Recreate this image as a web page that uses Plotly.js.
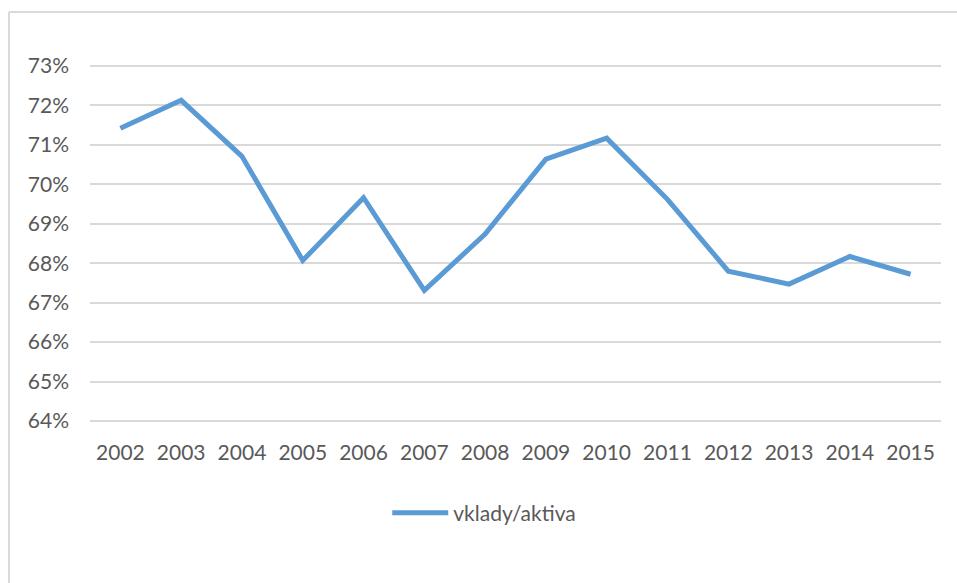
<!DOCTYPE html>
<html>
<head>
<meta charset="utf-8">
<script src="https://cdn.plot.ly/plotly-3.0.1.min.js"></script>
<style>
  html, body { margin: 0; padding: 0; background: #ffffff; }
  #chart { width: 957px; height: 583px; }
</style>
</head>
<body>
<div id="chart"></div>
<script>
// Deposits-to-assets ratio by year
const years = ['2002', '2003', '2004', '2005', '2006', '2007', '2008',
               '2009', '2010', '2011', '2012', '2013', '2014', '2015'];
const vkladyAktiva = [0.7142, 0.7213, 0.7071, 0.6807, 0.6966, 0.6731, 0.6874,
                      0.7064, 0.7117, 0.6962, 0.6780, 0.6747, 0.6817, 0.6772];
const seriesName = 'vklady/aktiva';
const yTicks = [0.64, 0.65, 0.66, 0.67, 0.68, 0.69, 0.70, 0.71, 0.72, 0.73];

const textColor = '#595959';
const gridColor = '#d9d9d9';
const fontFamily = 'Lato, "Open Sans", sans-serif';

const trace = {
  type: 'scatter',
  mode: 'lines',
  x: years,
  y: vkladyAktiva,
  name: seriesName,
  line: { color: '#5b9bd5', width: 5 },
  hoverinfo: 'x+y'
};

// small pad so the 64% and 73% grid lines sit just inside the plot area
const yPad = 0.0005;

const layout = {
  width: 957,
  height: 583,
  paper_bgcolor: '#ffffff',
  plot_bgcolor: '#ffffff',
  margin: { l: 90, r: 16, t: 64, b: 160, pad: 0 },
  font: { family: fontFamily, size: 21, color: textColor },
  showlegend: true,
  legend: {
    orientation: 'h',
    xref: 'container',
    yref: 'container',
    x: 0.506,
    xanchor: 'center',
    y: 0.12,
    yanchor: 'middle',
    itemwidth: 56,
    font: { family: fontFamily, size: 21, color: textColor },
    bgcolor: 'rgba(0,0,0,0)'
  },
  xaxis: {
    type: 'category',
    range: [-0.5, years.length - 0.5],
    showgrid: false,
    zeroline: false,
    showline: false,
    ticks: '',
    ticklabelstandoff: 15,
    tickfont: { family: fontFamily, size: 21, color: textColor },
    fixedrange: true
  },
  yaxis: {
    range: [0.64 - yPad, 0.73 + yPad],
    tickvals: yTicks,
    tickformat: '.0%',
    showgrid: true,
    gridcolor: gridColor,
    gridwidth: 2,
    zeroline: false,
    showline: false,
    ticks: '',
    ticklabelstandoff: 20,
    tickfont: { family: fontFamily, size: 21, color: textColor },
    fixedrange: true
  },
  shapes: [
    // chart frame: top and left edges
    { type: 'line', xref: 'paper', yref: 'paper',
      x0: -0.0952, x1: 1.02, y0: 1.145, y1: 1.145,
      line: { color: gridColor, width: 2 } },
    { type: 'line', xref: 'paper', yref: 'paper',
      x0: -0.0952, x1: -0.0952, y0: 1.145, y1: -0.46,
      line: { color: gridColor, width: 2 } }
  ]
};

Plotly.newPlot('chart', [trace], layout, { displayModeBar: false, staticPlot: true });
</script>
</body>
</html>
